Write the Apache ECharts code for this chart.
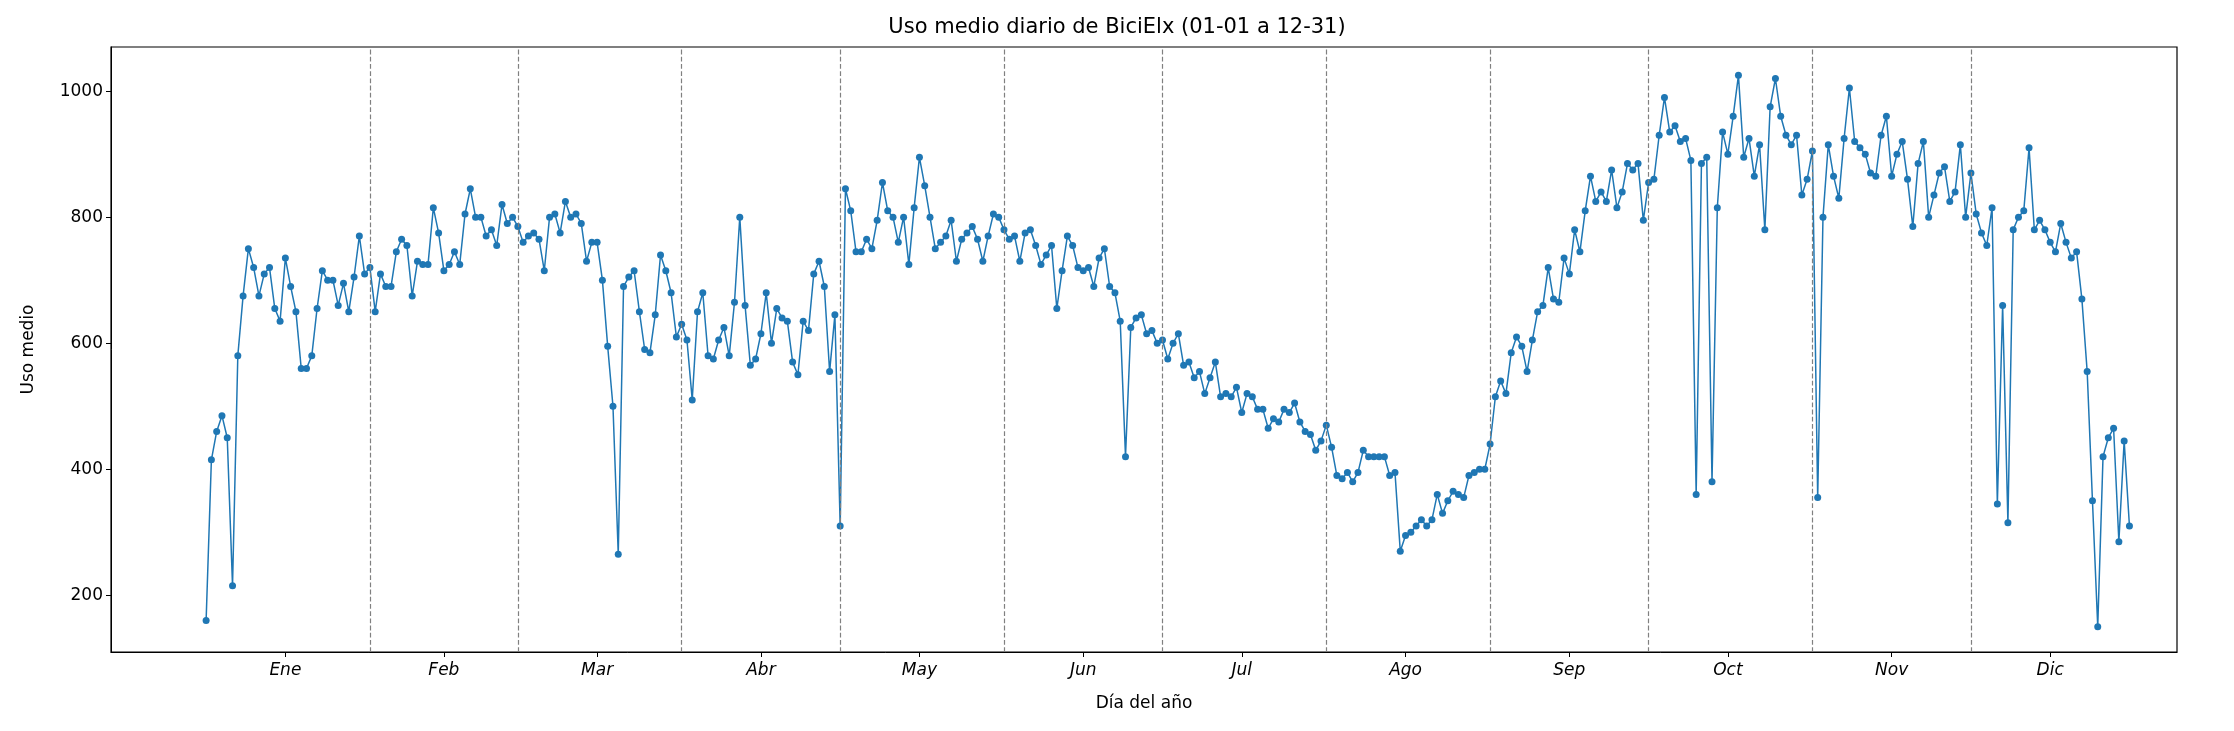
<!DOCTYPE html>
<html>
<meta charset="utf-8" />
<head>
  <script src="https://cdn.jsdelivr.net/npm/echarts@6.0.0/dist/echarts.min.js"></script>
  <style>
    html, body { margin: 0; background: #fff; }
    #chart { width: 2234px; height: 731px; }
  </style>
</head>
<body>
  <div id="chart"></div>
  <script>
    const monthNames = ["Ene", "Feb", "Mar", "Abr", "May", "Jun", "Jul", "Ago", "Sep", "Oct", "Nov", "Dic"];
    const monthStarts = [1, 32, 60, 91, 121, 152, 182, 213, 244, 274, 305, 335];
    const monthMids = [16, 46, 75, 106, 136, 167, 197, 228, 259, 289, 320, 350];

    const ene = [160, 415, 460, 485, 450, 215, 580, 675, 750, 720, 675, 710, 720, 655, 635, 735, 690, 650, 560, 560, 580, 655, 715, 700, 700, 660, 695, 650, 705, 770, 710];
    const feb = [720, 650, 710, 690, 690, 745, 765, 755, 675, 730, 725, 725, 815, 775, 715, 725, 745, 725, 805, 845, 800, 800, 770, 780, 755, 820, 790, 800];
    const mar = [785, 760, 770, 775, 765, 715, 800, 805, 775, 825, 800, 805, 790, 730, 760, 760, 700, 595, 500, 265, 690, 705, 715, 650, 590, 585, 645, 740, 715, 680, 610];
    const abr = [630, 605, 510, 650, 680, 580, 575, 605, 625, 580, 665, 800, 660, 565, 575, 615, 680, 600, 655, 640, 635, 570, 550, 635, 620, 710, 730, 690, 555, 645];
    const may = [310, 845, 810, 745, 745, 765, 750, 795, 855, 810, 800, 760, 800, 725, 815, 895, 850, 800, 750, 760, 770, 795, 730, 765, 775, 785, 765, 730, 770, 805, 800];
    const jun = [780, 765, 770, 730, 775, 780, 755, 725, 740, 755, 655, 715, 770, 755, 720, 715, 720, 690, 735, 750, 690, 680, 635, 420, 625, 640, 645, 615, 620, 600];
    const jul = [605, 575, 600, 615, 565, 570, 545, 555, 520, 545, 570, 515, 520, 515, 530, 490, 520, 515, 495, 495, 465, 480, 475, 495, 490, 505, 475, 460, 455, 430, 445];
    const ago = [470, 435, 390, 385, 395, 380, 395, 430, 420, 420, 420, 420, 390, 395, 270, 295, 300, 310, 320, 310, 320, 360, 330, 350, 365, 360, 355, 390, 395, 400, 400];
    const sep = [440, 515, 540, 520, 585, 610, 595, 555, 605, 650, 660, 720, 670, 665, 735, 710, 780, 745, 810, 865, 825, 840, 825, 875, 815, 840, 885, 875, 885, 795];
    const oct = [855, 860, 930, 990, 935, 945, 920, 925, 890, 360, 885, 895, 380, 815, 935, 900, 960, 1025, 895, 925, 865, 915, 780, 975, 1020, 960, 930, 915, 930, 835, 860];
    const nov = [905, 355, 800, 915, 865, 830, 925, 1005, 920, 910, 900, 870, 865, 930, 960, 865, 900, 920, 860, 785, 885, 920, 800, 835, 870, 880, 825, 840, 915, 800];
    const dic = [870, 805, 775, 755, 815, 345, 660, 315, 780, 800, 810, 910, 780, 795, 780, 760, 745, 790, 760, 735, 745, 670, 555, 350, 150, 420, 450, 465, 285, 445, 310];

    const usoMedio = [].concat(ene, feb, mar, abr, may, jun, jul, ago, sep, oct, nov, dic);
    const yTicks = [200, 400, 600, 800, 1000];

    const seriesData = usoMedio.map((v, i) => [i + 1, v]);
    const font = "DejaVu Sans";

    const myChart = echarts.init(document.getElementById("chart"));
    myChart.setOption({
      animation: false,
      textStyle: { fontFamily: font },
      title: {
        text: "Uso medio diario de BiciElx (01-01 a 12-31)",
        left: "center",
        top: 12,
        textStyle: { fontFamily: font, fontSize: 21, fontWeight: "normal", color: "#000" },
      },
      grid: { left: 111, right: 57, top: 47, bottom: 79, show: true, borderColor: "#000", borderWidth: 1.2 },
      xAxis: {
        type: "value",
        min: -17,
        max: 374,
        name: "Día del año",
        nameLocation: "middle",
        nameGap: 43,
        nameTextStyle: { fontSize: 17, color: "#000" },
        splitLine: { show: false },
        axisLine: { show: true, onZero: false, lineStyle: { color: "#000" } },
        axisTick: { show: true, customValues: monthMids, length: 5, lineStyle: { color: "#000" } },
        axisLabel: {
          customValues: monthMids,
          fontSize: 17,
          fontStyle: "italic",
          color: "#000",
          margin: 10,
          formatter: (v) => monthNames[monthMids.indexOf(v)] || "",
        },
      },
      yAxis: {
        type: "value",
        min: 110,
        max: 1070,
        name: "Uso medio",
        nameLocation: "middle",
        nameGap: 74,
        nameTextStyle: { fontSize: 17, color: "#000" },
        splitLine: { show: false },
        axisLine: { show: true, onZero: false, lineStyle: { color: "#000" } },
        axisTick: { show: true, customValues: yTicks, length: 5, lineStyle: { color: "#000" } },
        axisLabel: { customValues: yTicks, fontSize: 17, color: "#000", formatter: (v) => String(v) },
      },
      series: [
        {
          type: "line",
          data: seriesData,
          symbol: "circle",
          symbolSize: 7,
          itemStyle: { color: "#1f77b4" },
          lineStyle: { width: 1.5, color: "#1f77b4" },
          markLine: {
            silent: true,
            symbol: "none",
            label: { show: false },
            lineStyle: { type: "dashed", color: "#808080", width: 1.2 },
            data: monthStarts.slice(1).map((d) => ({ xAxis: d })),
          },
        },
      ],
    });
  </script>
</body>
</html>
